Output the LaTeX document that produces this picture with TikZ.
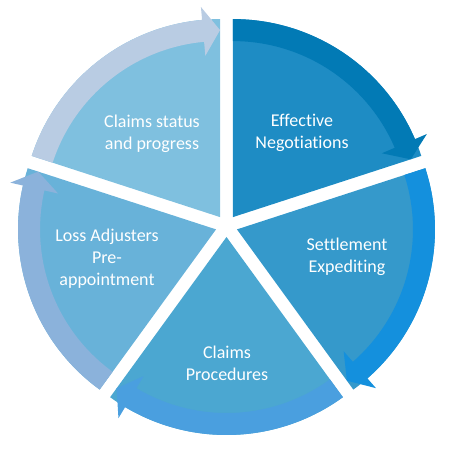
\documentclass[tikz,border=0pt]{standalone}
\usepackage{fontspec}
\setmainfont[Ligatures=NoCommon]{Carlito}
\usepackage{tikz}
\usetikzlibrary{positioning}
\definecolor{cssector}{HTML}{7FC0DF}
\definecolor{csarrow}{HTML}{B9CCE3}
\definecolor{efsector}{HTML}{1E8CC4}
\definecolor{efarrow}{HTML}{027AB5}
\definecolor{sesector}{HTML}{3599CB}
\definecolor{searrow}{HTML}{1490DD}
\definecolor{cpsector}{HTML}{4BA7D1}
\definecolor{cparrow}{HTML}{4A9FDF}
\definecolor{lasector}{HTML}{68B2D9}
\definecolor{laarrow}{HTML}{8BB2DB}

\begin{document}
\begin{tikzpicture}[x=1pt,y=1pt,
    lbl/.style={text=white,align=center,font=\fontsize{18}{22}\selectfont}]
  \useasboundingbox (0,0) rectangle (454,454);
  \foreach \b/\sec/\arr in {54/efsector/efarrow,-18/sesector/searrow,-90/cpsector/cparrow,-162/lasector/laarrow,126/cssector/csarrow}{
    \begin{scope}[shift={(226.5,228)},shift={(\b:11)}]
      \fill[\sec] (0,0) -- ({\b+36}:198) arc[start angle=\b+36,end angle=\b-36,radius=198] -- cycle;
      \fill[\arr] ({\b+36}:176) arc[start angle=\b+36,end angle=\b-30.8,radius=176]
        -- ({\b-30.8}:162) -- ({\b-36}:187) -- ({\b-30.8}:211) -- ({\b-30.8}:198)
        arc[start angle=\b-30.8,end angle=\b+36,radius=198] -- cycle;
    \end{scope}
  }
  \node[lbl] (status) at (152,320) {Claims status\\and progress};
  \node[lbl] (nego) at (302,321) {Effective\\Negotiations};
  \node[lbl] (settle) at (347,197) {Settlement\\Expediting};
  \node[lbl] (proc) at (227,91) {Claims\\Procedures};
  \node[lbl] (loss) at (107,195) {Loss Adjusters\\Pre-\\appointment};
\end{tikzpicture}
\end{document}
